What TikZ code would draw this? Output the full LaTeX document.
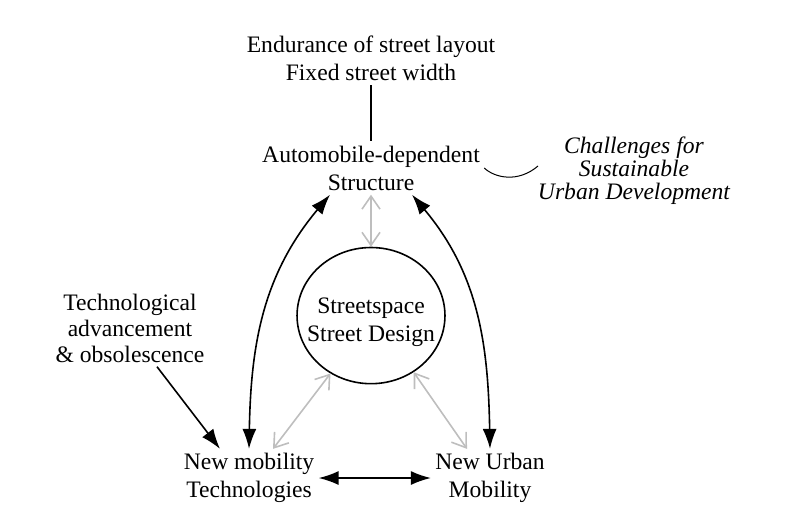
\documentclass[tikz,border=0pt]{standalone}
\usepackage{fontspec}
\setmainfont{Liberation Serif}
\usetikzlibrary{arrows.meta}
\usetikzlibrary{positioning}
\usetikzlibrary{shapes.geometric}
\definecolor{fg}{rgb}{0,0,0}
\definecolor{lightarrow}{RGB}{190,190,190}
\tikzstyle{box}=[align=center, text=fg, inner sep=2pt,
font=\fontsize{11.8}{14}\selectfont]
\tikzstyle{note}=[box, font=\fontsize{11.8}{11.5}\selectfont\itshape]
\tikzstyle{hub}=[box, draw, ellipse, inner xsep=-5.8pt, inner ysep=8.8pt,
line width=0.8pt]
\tikzstyle{myarrow}=[{Latex[length=10pt,width=7pt]}-{Latex[length=10pt,width=7pt]}, line width=0.8pt]
\tikzstyle{onearrow}=[-{Latex[length=10pt,width=7pt]}, line width=0.8pt]
\tikzstyle{greyarrow}=[{Straight Barb[length=6.5pt,width=9pt]}-{Straight Barb[length=6.5pt,width=9pt]},
draw=lightarrow, line width=0.8pt]

\begin{document}
\begin{tikzpicture}[x=0.5pt, y=-0.5pt, node distance=28pt]
    \useasboundingbox (0,0) rectangle (785,526);

    \node[box] (Struct) at (371,168) {Automobile-dependent\\Structure};
    \node[box, above=of Struct] (Endur) {Endurance of street layout\\Fixed street width};
    \draw[line width=0.8pt] (Endur) -- (Struct) ;

    % CHALLENGES
    \node[note] (Chall) at (634,171) {Challenges for\\Sustainable\\Urban Development};
    \coordinate (tildeEnd) at (538,166);
    \draw[line width=0.5pt] (Struct.east) .. controls (495,178) and (518,183) .. (tildeEnd) ;

    % STREETSPACE
    \node[hub, below=26pt of Struct] (Space) {\rule{0pt}{14pt}Streetspace\\Street Design};
    \draw[greyarrow] (Struct) -- (Space) ;

    % MOBILITY
    \node[box] (NMT) at (249,478) {New mobility\\Technologies};
    \node[box] (NUM) at (490,478) {New Urban\\Mobility};
    \draw[myarrow] (NMT) -- (NUM) ;
    \draw[myarrow] (NMT.north) to[out=89, in=-130] ([xshift=-20.5pt]Struct.south) ;
    \draw[myarrow] (NUM.north) to[out=91, in=-50] ([xshift=20.5pt]Struct.south) ;
    \draw[greyarrow] (Space.-125) -- ([xshift=12pt]NMT.north) ;
    \draw[greyarrow] (Space.-53) -- ([xshift=-11.5pt]NUM.north) ;

    % TECHNOLOGY
    \node[box, font=\fontsize{11.8}{13}\selectfont] (Tech) at (130,328) {Technological\\advancement\\\& obsolescence};
    \draw[onearrow] ([xshift=13.5pt]Tech.south) -- ([xshift=-14.5pt]NMT.north) ;

\end{tikzpicture}
\end{document}
